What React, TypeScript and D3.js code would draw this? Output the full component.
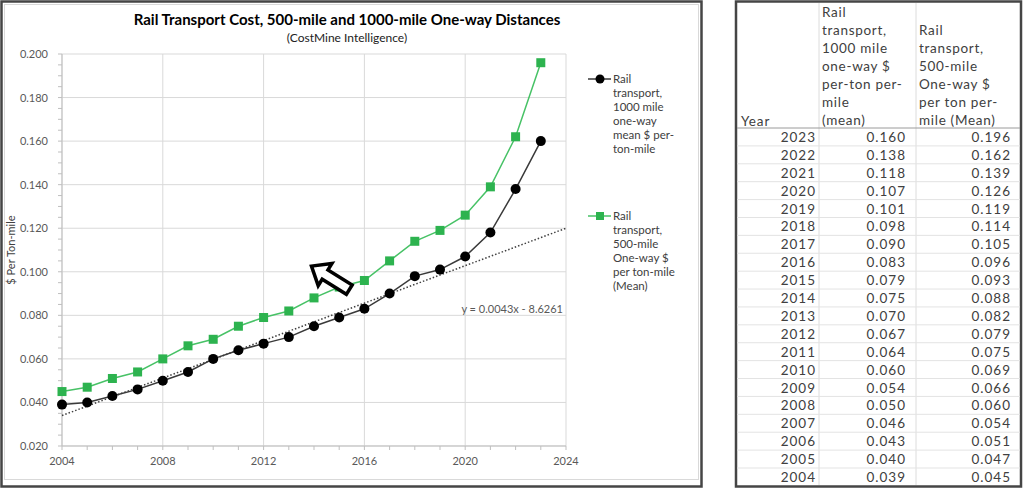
import React from 'react';
import * as d3 from 'd3';

const years: number[] = [2004, 2005, 2006, 2007, 2008, 2009, 2010, 2011, 2012, 2013, 2014, 2015, 2016, 2017, 2018, 2019, 2020, 2021, 2022, 2023];
const cost1000: number[] = [0.039, 0.040, 0.043, 0.046, 0.050, 0.054, 0.060, 0.064, 0.067, 0.070, 0.075, 0.079, 0.083, 0.090, 0.098, 0.101, 0.107, 0.118, 0.138, 0.160];
const cost500: number[] = [0.045, 0.047, 0.051, 0.054, 0.060, 0.066, 0.069, 0.075, 0.079, 0.082, 0.088, 0.093, 0.096, 0.105, 0.114, 0.119, 0.126, 0.139, 0.162, 0.196];
const yTicks: number[] = [0.02, 0.04, 0.06, 0.08, 0.1, 0.12, 0.14, 0.16, 0.18, 0.2];
const xTicks: number[] = [2004, 2008, 2012, 2016, 2020, 2024];
const trendYears: number[] = [2004, 2024];
const trendValues: number[] = [0.034, 0.120];
const trendLabel = 'y = 0.0043x - 8.6261';
const arrowTip: [number, number] = [2013.9, 0.1026];
const arrowTail: [number, number] = [2015.4, 0.0918];

const title = 'Rail Transport Cost, 500-mile and 1000-mile One-way Distances';
const subtitle = '(CostMine Intelligence)';
const yAxisTitle = '$ Per Ton-mile';
const legend1000: string[] = ['Rail', 'transport,', '1000 mile', 'one-way', 'mean $ per-', 'ton-mile'];
const legend500: string[] = ['Rail', 'transport,', '500-mile', 'One-way $', 'per ton-mile', '(Mean)'];
const tableHead1: string[] = ['Rail', 'transport,', '1000 mile', 'one-way $', 'per-ton per-', 'mile', '(mean)'];
const tableHead2: string[] = ['Rail', 'transport,', '500-mile', 'One-way $', 'per ton per-', 'mile (Mean)'];

const FONT = 'Lato, "Open Sans", sans-serif';
const BLACK_LINE = '#3a3a3a';
const GREEN = '#2db34f';
const GREEN_LINE = '#47c266';

export default function App() {
  const x = d3.scaleLinear().domain([2004, 2024]).range([62, 566]);
  const y = d3.scaleLinear().domain([0.02, 0.2]).range([446, 54]);
  const line = d3.line<number>().x((_, i) => x(years[i])).y((d) => y(d));
  const minorY = d3.range(0.02, 0.2001, 0.005);
  const minorX = d3.range(2004, 2025, 1);

  // arrow geometry
  const tip = [x(arrowTip[0]), y(arrowTip[1])];
  const tail = [x(arrowTail[0]), y(arrowTail[1])];
  const L = Math.hypot(tail[0] - tip[0], tail[1] - tip[1]);
  const ux = (tail[0] - tip[0]) / L, uy = (tail[1] - tip[1]) / L;
  const vx = -uy, vy = ux;
  const hl = 16, hw = 13, sw = 5.5;
  const local: [number, number][] = [[0, 0], [hl, hw], [hl, sw], [L, sw], [L, -sw], [hl, -sw], [hl, -hw]];
  const arrowPts = local.map(([u, v]) => `${tip[0] + u * ux + v * vx},${tip[1] + u * uy + v * vy}`).join(' ');

  // table
  const tx0 = 736, tx1 = 819, tx2 = 916, tx3 = 1021;
  const rowY = d3.scaleLinear().domain([0, years.length - 1]).range([137, 477]);
  const rows = years.slice().reverse().map((yr) => {
    const i = years.indexOf(yr);
    return { yr, a: cost1000[i], b: cost500[i] };
  });

  return (
    <svg width={1024} height={497} style={{ position: 'absolute', left: 0, top: 0, background: '#fff' }}>
      <rect x={0} y={0} width={1024} height={497} fill="#fff" />
      {/* chart frame */}
      <rect x={1.5} y={1.5} width={700} height={485} fill="#fff" stroke="#454545" strokeWidth={2.5} />
      <rect x={4.5} y={4.5} width={694} height={475} fill="none" stroke="#d9d9d9" strokeWidth={1} />

      {/* title */}
      <text x={347} y={25} textAnchor="middle" fontFamily={FONT} fontWeight="bold" fontSize={15} fill="#000">{title}</text>
      <text x={347} y={42} textAnchor="middle" fontFamily={FONT} fontSize={12} fill="#222">{subtitle}</text>

      {/* gridlines */}
      {yTicks.map((t) => (
        <line key={'gy' + t} x1={x(2004)} x2={x(2024)} y1={y(t)} y2={y(t)} stroke="#d9d9d9" strokeWidth={1} />
      ))}
      {xTicks.map((t) => (
        <line key={'gx' + t} x1={x(t)} x2={x(t)} y1={y(0.02)} y2={y(0.2)} stroke="#d9d9d9" strokeWidth={1} />
      ))}
      {/* axes */}
      <line x1={x(2004)} x2={x(2004)} y1={y(0.02)} y2={y(0.2)} stroke="#bfbfbf" strokeWidth={1} />
      <line x1={x(2004)} x2={x(2024)} y1={y(0.02)} y2={y(0.02)} stroke="#bfbfbf" strokeWidth={1} />
      {minorY.map((t) => (
        <line key={'my' + t} x1={x(2004) - 4} x2={x(2004)} y1={y(t)} y2={y(t)} stroke="#bfbfbf" strokeWidth={1} />
      ))}
      {minorX.map((t) => (
        <line key={'mx' + t} x1={x(t)} x2={x(t)} y1={y(0.02)} y2={y(0.02) + 4} stroke="#bfbfbf" strokeWidth={1} />
      ))}
      {yTicks.map((t) => (
        <text key={'ly' + t} x={48} y={y(t) + 4} textAnchor="end" fontFamily={FONT} fontSize={11} fill="#595959">{t.toFixed(3)}</text>
      ))}
      {xTicks.map((t) => (
        <text key={'lx' + t} x={x(t)} y={465} textAnchor="middle" fontFamily={FONT} fontSize={11} fill="#595959">{t}</text>
      ))}
      <text transform={`translate(15,${y(0.11)}) rotate(-90)`} textAnchor="middle" fontFamily={FONT} fontSize={11} fill="#404040">{yAxisTitle}</text>

      {/* trendline */}
      <line x1={x(trendYears[0])} y1={y(trendValues[0])} x2={x(trendYears[1])} y2={y(trendValues[1])} stroke="#404040" strokeWidth={1.5} strokeDasharray="1.5,2" />
      <text x={563} y={313} textAnchor="end" fontFamily={FONT} fontSize={11} fill="#595959">{trendLabel}</text>

      {/* series */}
      <path d={line(cost500) || ''} fill="none" stroke={GREEN_LINE} strokeWidth={1.5} />
      {cost500.map((v, i) => (
        <rect key={'g' + i} x={x(years[i]) - 4.5} y={y(v) - 4.5} width={9} height={9} fill={GREEN} />
      ))}
      <path d={line(cost1000) || ''} fill="none" stroke={BLACK_LINE} strokeWidth={1.5} />
      {cost1000.map((v, i) => (
        <circle key={'b' + i} cx={x(years[i])} cy={y(v)} r={5} fill="#000" />
      ))}

      {/* arrow */}
      <polygon points={arrowPts} fill="#fff" stroke="#000" strokeWidth={3.5} strokeLinejoin="miter" />

      {/* legend */}
      <line x1={588} x2={611} y1={79} y2={79} stroke={BLACK_LINE} strokeWidth={1.5} />
      <circle cx={600} cy={79} r={4.5} fill="#000" />
      {legend1000.map((s, i) => (
        <text key={'l1' + i} x={613} y={83 + i * 14} fontFamily={FONT} fontSize={11.5} fill="#404040">{s}</text>
      ))}
      <line x1={588} x2={611} y1={216} y2={216} stroke={GREEN_LINE} strokeWidth={1.5} />
      <rect x={596} y={212} width={8} height={8} fill={GREEN} />
      {legend500.map((s, i) => (
        <text key={'l2' + i} x={613} y={220 + i * 14} fontFamily={FONT} fontSize={11.5} fill="#404040">{s}</text>
      ))}

      {/* table */}
      <rect x={tx0} y={1.5} width={tx3 - tx0} height={485} fill="#fff" stroke="#454545" strokeWidth={2.5} />
      <line x1={tx1} x2={tx1} y1={3} y2={485} stroke="#dcdcdc" strokeWidth={1} />
      <line x1={tx2} x2={tx2} y1={3} y2={485} stroke="#dcdcdc" strokeWidth={1} />
      {rows.map((r, i) => (
        <line key={'rl' + i} x1={tx0 + 1} x2={tx3 - 1} y1={rowY(i) - 9} y2={rowY(i) - 9} stroke={i === 0 ? '#9a9a9a' : '#e3e3e3'} strokeWidth={1} />
      ))}
      <text x={741} y={126} fontFamily={FONT} fontSize={13.5} letterSpacing={0.9} fill="#404040">Year</text>
      {tableHead1.map((s, i) => (
        <text key={'h1' + i} x={822} y={17 + i * 18} fontFamily={FONT} fontSize={13.5} letterSpacing={0.7} fill="#404040">{s}</text>
      ))}
      {tableHead2.map((s, i) => (
        <text key={'h2' + i} x={919} y={35 + i * 18} fontFamily={FONT} fontSize={13.5} letterSpacing={0.7} fill="#404040">{s}</text>
      ))}
      {rows.map((r, i) => (
        <g key={'r' + r.yr} fontFamily={FONT} fontSize={13.5} letterSpacing={1} fill="#404040">
          <text x={816} y={rowY(i) + 5} textAnchor="end">{r.yr}</text>
          <text x={906} y={rowY(i) + 5} textAnchor="end">{r.a.toFixed(3)}</text>
          <text x={1011} y={rowY(i) + 5} textAnchor="end">{r.b.toFixed(3)}</text>
        </g>
      ))}
    </svg>
  );
}
